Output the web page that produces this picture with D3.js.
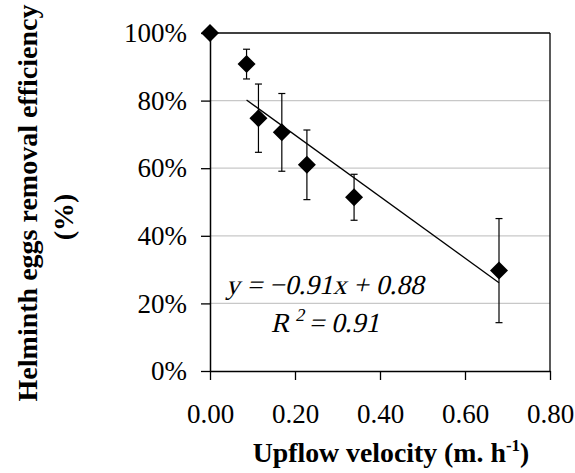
<!DOCTYPE html>
<html>
<head>
<meta charset="utf-8">
<script src="https://cdn.jsdelivr.net/npm/d3@7"></script>
<style>
  body { margin: 0; background: #fff; }
  text { font-family: "Liberation Serif", "Times New Roman", Times, serif; fill: #000; }
</style>
</head>
<body>
<svg id="chart" width="575" height="473"></svg>
<script>
// upflow velocity (m/h) vs helminth egg removal (fraction)
var velocity   = [0.00, 0.086, 0.114, 0.169, 0.228, 0.339, 0.680];
var efficiency = [1.00, 0.908, 0.748, 0.706, 0.610, 0.514, 0.297];
var errBar     = [0.00, 0.044, 0.101, 0.115, 0.103, 0.068, 0.154];
var xTicks = [0, 0.2, 0.4, 0.6, 0.8];
var yTicks = [0, 0.2, 0.4, 0.6, 0.8, 1.0];
var slope = -0.91, intercept = 0.88;
var fitRange = [0.086, 0.680];

var FONT = '"Liberation Serif", "Times New Roman", Times, serif';

var svg = d3.select("#chart");
var x = d3.scaleLinear().domain([0, 0.8]).range([210, 550]);
var y = d3.scaleLinear().domain([0, 1]).range([371, 33]);

// gridlines
svg.append("g").selectAll("line")
    .data(yTicks.filter(function(d) { return d > 0 && d < 1; }))
    .enter().append("line")
    .attr("x1", x(0)).attr("x2", x(0.8))
    .attr("y1", function(d) { return y(d); })
    .attr("y2", function(d) { return y(d); })
    .style("stroke", "#c8c8c8").style("stroke-width", 1.2);

// frame top / right
svg.append("line").attr("x1", x(0)).attr("x2", x(0.8)).attr("y1", y(1)).attr("y2", y(1))
    .style("stroke", "#000").style("stroke-width", 1.3);
svg.append("line").attr("x1", x(0.8)).attr("x2", x(0.8)).attr("y1", y(1)).attr("y2", y(0))
    .style("stroke", "#000").style("stroke-width", 1.3);

var yAxis = svg.append("g")
    .attr("transform", "translate(" + x(0) + ",0)")
    .call(d3.axisLeft(y).tickValues(yTicks).tickFormat(d3.format(".0%"))
        .tickSize(9).tickSizeOuter(0).tickPadding(14));
var xAxis = svg.append("g")
    .attr("transform", "translate(0," + y(0) + ")")
    .call(d3.axisBottom(x).tickValues(xTicks).tickFormat(d3.format(".2f"))
        .tickSize(9).tickSizeOuter(0).tickPadding(24));
[xAxis, yAxis].forEach(function(a) {
    a.attr("font-family", null).attr("font-size", null);
    a.select(".domain").style("stroke", "#000").style("stroke-width", 1.5);
    a.selectAll(".tick line").style("stroke", "#000").style("stroke-width", 1.3);
    a.selectAll(".tick text").style("font-family", FONT).style("font-size", "27px").style("fill", "#000");
});

// trend line
svg.append("line")
    .attr("x1", x(fitRange[0])).attr("y1", y(slope * fitRange[0] + intercept))
    .attr("x2", x(fitRange[1])).attr("y2", y(slope * fitRange[1] + intercept))
    .style("stroke", "#000").style("stroke-width", 1.3);

// error bars
var eb = svg.append("g").selectAll("g")
    .data(velocity.map(function(v, i) { return {v: v, e: efficiency[i], s: errBar[i]}; })
        .filter(function(d) { return d.s > 0; }))
    .enter().append("g").style("stroke", "#000").style("stroke-width", 1.2);
eb.append("line")
    .attr("x1", function(d) { return x(d.v); }).attr("x2", function(d) { return x(d.v); })
    .attr("y1", function(d) { return y(d.e + d.s); }).attr("y2", function(d) { return y(d.e - d.s); });
eb.append("line")
    .attr("x1", function(d) { return x(d.v) - 3.5; }).attr("x2", function(d) { return x(d.v) + 3.5; })
    .attr("y1", function(d) { return y(d.e + d.s); }).attr("y2", function(d) { return y(d.e + d.s); });
eb.append("line")
    .attr("x1", function(d) { return x(d.v) - 3.5; }).attr("x2", function(d) { return x(d.v) + 3.5; })
    .attr("y1", function(d) { return y(d.e - d.s); }).attr("y2", function(d) { return y(d.e - d.s); });

// diamond markers
var r = 9;
svg.append("g").selectAll("path")
    .data(velocity)
    .enter().append("path")
    .attr("transform", function(d, i) { return "translate(" + x(d) + "," + y(efficiency[i]) + ")"; })
    .attr("d", "M0," + (-r) + "L" + r + ",0L0," + r + "L" + (-r) + ",0Z")
    .style("fill", "#000");

// regression labels (serif italic face is missing, so slant the upright one)
var eq = svg.append("text").attr("transform", "translate(325,294) skewX(-13)")
    .style("font-family", FONT)
    .style("font-size", "27.5px").style("text-anchor", "middle")
    .text("y = \u22120.91x + 0.88");
var r2 = svg.append("text").attr("transform", "translate(325,332) skewX(-13)")
    .style("font-family", FONT)
    .style("font-size", "27.5px").style("text-anchor", "middle");
r2.append("tspan").text("R");
r2.append("tspan").attr("dy", -11).style("font-size", "18px").text("\u2009" + "2");
r2.append("tspan").attr("dy", 11).text("  = 0.91");

// axis titles
var xt = svg.append("text").attr("x", 391).attr("y", 462)
    .style("font-family", FONT)
    .style("font-size", "27.8px").style("font-weight", "bold").style("text-anchor", "middle");
xt.append("tspan").text("Upflow velocity (m. h");
xt.append("tspan").attr("dy", -11).style("font-size", "17px").text("-1");
xt.append("tspan").attr("dy", 11).text(")");

var yt = svg.append("g").attr("transform", "rotate(-90)")
    .style("font-family", FONT)
    .style("font-size", "28px").style("font-weight", "bold").style("text-anchor", "middle");
yt.append("text").attr("x", -203).attr("y", 37).text("Helminth eggs removal efficiency");
yt.append("text").attr("x", -217).attr("y", 73).text("(%)");
</script>
</body>
</html>
